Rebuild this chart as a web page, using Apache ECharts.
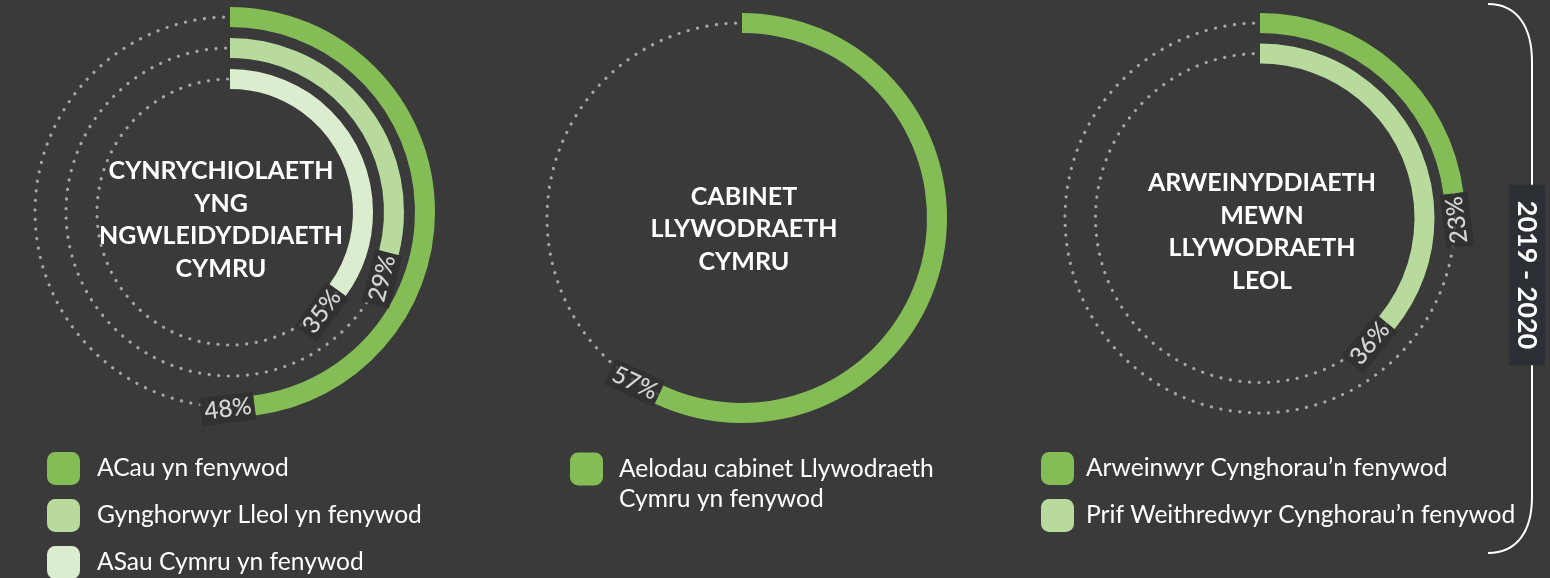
<!DOCTYPE html>
<html><head><meta charset="utf-8">
<script src="https://cdn.jsdelivr.net/npm/echarts@6/dist/echarts.min.js"></script>
<style>html,body{margin:0;padding:0;background:#3a3a3a}#c{width:1550px;height:578px}</style>
</head><body><div id="c"></div>
<script>
// ---- data ----
const chart1Categories = ['ACau yn fenywod', 'Gynghorwyr Lleol yn fenywod', 'ASau Cymru yn fenywod'];
const chart1Values = [48, 29, 35];
const chart1Title = ['CYNRYCHIOLAETH', 'YNG', 'NGWLEIDYDDIAETH', 'CYMRU'];

const chart2Categories = ['Aelodau cabinet Llywodraeth Cymru yn fenywod'];
const chart2Values = [57];
const chart2Title = ['CABINET', 'LLYWODRAETH', 'CYMRU'];

const chart3Categories = ['Arweinwyr Cynghorau’n fenywod', 'Prif Weithredwyr Cynghorau’n fenywod'];
const chart3Values = [23, 36];
const chart3Title = ['ARWEINYDDIAETH', 'MEWN', 'LLYWODRAETH', 'LEOL'];

const periodLabel = '2019 - 2020';

// ---- style / layout ----
const greens = ['#84bd56', '#b8da9c', '#dcecce'];
const FONT = 'Lato, "Open Sans", sans-serif';
const charts = [
  {cats: chart1Categories, vals: chart1Values, title: chart1Title, center: [230, 212], radius: [117.5, 210.5], legendPos: {left: 47, top: 452}, textGap: 12, titleX: 221, titleY: 220},
  {cats: chart2Categories, vals: chart2Values, title: chart2Title, center: [742, 218], radius: [179.5, 210.5], legendPos: {left: 570, top: 426.5}, textGap: 11, titleX: 744, titleY: 229},
  {cats: chart3Categories, vals: chart3Values, title: chart3Title, center: [1260, 218], radius: [149.25, 210.25], legendPos: {left: 1041, top: 452}, textGap: 7, titleX: 1262, titleY: 232}
];

function wrapLegend(name) {
  const i = name.indexOf('Llywodraeth ');
  if (name.length > 40 && i >= 0) {
    const cut = i + 'Llywodraeth'.length;
    return '{t| }\n{t|' + name.slice(0, cut) + '}\n{t|' + name.slice(cut + 1) + '}';
  }
  return '{t|' + name + '}';
}

const polar = [], angleAxis = [], radiusAxis = [], series = [], legend = [], graphic = [];
charts.forEach((c, k) => {
  const axisCats = c.cats.slice().reverse(); // inner -> outer
  polar.push({center: c.center, radius: c.radius});
  angleAxis.push({polarIndex: k, type: 'value', min: 0, max: 100, startAngle: 90, clockwise: true,
    axisLine: {show: false}, axisTick: {show: false}, axisLabel: {show: false}, splitLine: {show: false}});
  radiusAxis.push({polarIndex: k, type: 'category', data: axisCats,
    axisLine: {show: false}, axisTick: {show: false, alignWithLabel: true, interval: 0}, axisLabel: {show: false, interval: 0},
    splitLine: {show: true, interval: 0, lineStyle: {color: '#a6a6a6', width: 3.2, type: [0.1, 9.5], cap: 'round'}}});
  c.cats.forEach((name, i) => {
    const idx = axisCats.indexOf(name);
    const data = axisCats.map((_, j) => j === idx ? c.vals[i] : '-');
    series.push({
      type: 'bar', coordinateSystem: 'polar', polarIndex: k, name: name, data: data,
      stack: 'ring' + k, barWidth: 20, itemStyle: {color: greens[i]},
      emphasis: {disabled: true}, silent: true, z: 2
    });
  });
  // value labels placed at the end of each arc
  series.push({
    type: 'scatter', coordinateSystem: 'polar', polarIndex: k, symbolSize: 0, silent: true, z: 5,
    data: c.cats.map((name, i) => ({
      value: [name, c.vals[i]],
      label: {rotate: 180 - c.vals[i] * 3.6}
    })),
    label: {show: true, position: 'inside', align: 'right', verticalAlign: 'middle',
      formatter: p => p.value[1] + '%', color: '#ffffff', fontSize: 24, fontFamily: FONT, fontWeight: 500,
      backgroundColor: '#2f2f2f', padding: [3, 3, 1, 4]},
    emphasis: {disabled: true}
  });
  legend.push(Object.assign({
    orient: 'vertical', data: c.cats, itemWidth: 33, itemHeight: 33, itemGap: 14, icon: 'roundRect',
    padding: 0, selectedMode: false, height: 200,
    formatter: wrapLegend,
    textStyle: {color: '#fff', fontSize: 24.6, fontFamily: FONT,
      rich: {t: {color: '#fff', fontSize: 24.6, fontFamily: FONT, lineHeight: 30, padding: [0, 0, 0, c.textGap]}}}
  }, c.legendPos));
  graphic.push({type: 'text', x: c.titleX, y: c.titleY, silent: true,
    style: {text: c.title.join('\n'), fill: '#fff', font: 'bold 25px ' + FONT, textAlign: 'center', align: 'center',
      textVerticalAlign: 'middle', verticalAlign: 'middle', lineHeight: 32.5}});
});

// bracket + period label
const bracketStyle = {stroke: '#ffffff', lineWidth: 2, fill: null};
graphic.push({type: 'bezierCurve', silent: true, shape: {x1: 1488, y1: 4, cpx1: 1518, cpy1: 4, cpx2: 1532, cpy2: 28, x2: 1532, y2: 62}, style: bracketStyle});
graphic.push({type: 'line', silent: true, shape: {x1: 1532, y1: 62, x2: 1532, y2: 497}, style: bracketStyle});
graphic.push({type: 'bezierCurve', silent: true, shape: {x1: 1532, y1: 497, cpx1: 1532, cpy1: 530, cpx2: 1518, cpy2: 553, x2: 1488, y2: 553}, style: bracketStyle});
graphic.push({type: 'text', x: 1527, y: 275, rotation: -Math.PI / 2, silent: true, z: 10,
  style: {text: periodLabel, fill: '#fff', font: 'bold 27px ' + FONT, textAlign: 'center', align: 'center',
    textVerticalAlign: 'middle', verticalAlign: 'middle', backgroundColor: '#2c2f33', padding: [5, 16, 4, 16]}});

const chart = echarts.init(document.getElementById('c'), null, {renderer: 'canvas'});
chart.setOption({
  backgroundColor: '#3a3a3a',
  animation: false,
  polar, angleAxis, radiusAxis, series, legend, graphic
});
</script></body></html>
